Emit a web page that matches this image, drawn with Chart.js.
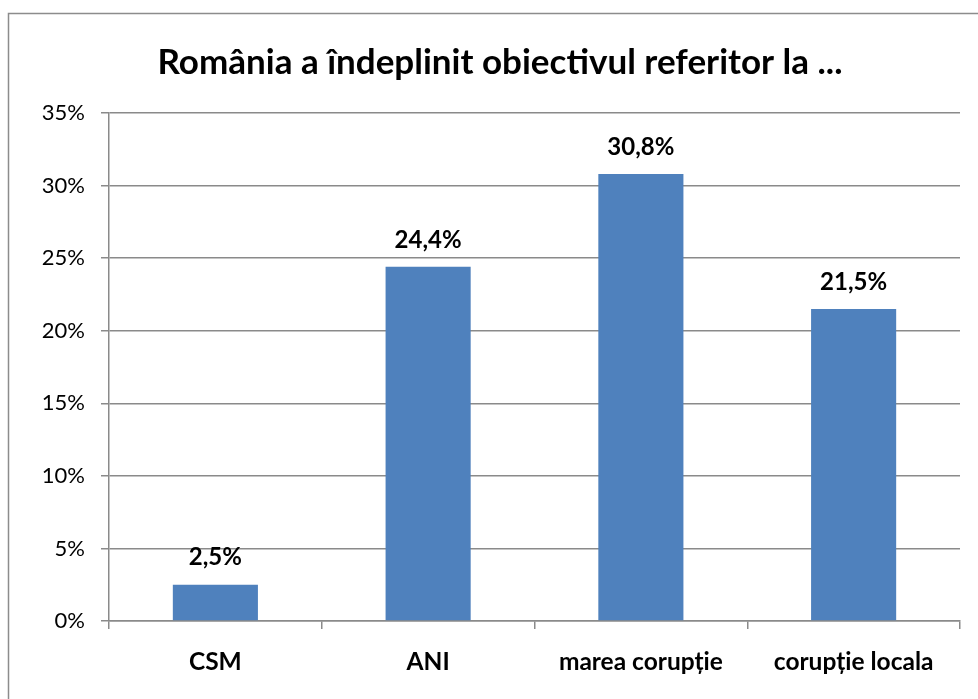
<!DOCTYPE html>
<html>
<head>
<meta charset="utf-8">
<script src="https://cdn.jsdelivr.net/npm/chart.js@4/dist/chart.umd.min.js"></script>
<style>
  html, body { margin: 0; padding: 0; background: #fff; }
  #wrap { width: 978px; height: 699px; }
</style>
</head>
<body>
<div id="wrap"><canvas id="c" width="978" height="699"></canvas></div>
<script>
const titleText = 'România a îndeplinit obiectivul referitor la ...';
const categories = ['CSM', 'ANI', 'marea corupție', 'corupție locala'];
const values = [2.5, 24.4, 30.8, 21.5];
const yTicks = [0, 5, 10, 15, 20, 25, 30, 35];

const FONT = 'Lato, "Open Sans", sans-serif';
const GRID = '#8a8a8a';

const borderPlugin = {
  id: 'outerBorder',
  beforeDraw(chart) {
    const ctx = chart.ctx;
    ctx.save();
    ctx.fillStyle = '#ffffff';
    ctx.fillRect(0, 0, chart.width, chart.height);
    ctx.strokeStyle = '#8c8c8c';
    ctx.lineWidth = 1.5;
    ctx.strokeRect(8.5, 13.5, 1200, 1200);
    ctx.restore();
  }
};

const titlePlugin = {
  id: 'customTitle',
  afterDraw(chart) {
    const ctx = chart.ctx;
    ctx.save();
    ctx.font = 'bold 35px ' + FONT;
    ctx.fillStyle = '#000';
    ctx.textAlign = 'center';
    ctx.textBaseline = 'middle';
    ctx.fillText(titleText, 500, 63);
    ctx.restore();
  }
};

const labelPlugin = {
  id: 'barLabels',
  afterDatasetsDraw(chart) {
    const ctx = chart.ctx;
    const meta = chart.getDatasetMeta(0);
    ctx.save();
    ctx.font = 'bold 24px ' + FONT;
    ctx.fillStyle = '#000';
    ctx.textAlign = 'center';
    ctx.textBaseline = 'middle';
    meta.data.forEach((bar, i) => {
      const txt = values[i].toFixed(1).replace('.', ',') + '%';
      ctx.fillText(txt, bar.x, bar.y - 27);
    });
    ctx.restore();
  }
};

new Chart(document.getElementById('c'), {
  type: 'bar',
  data: {
    labels: categories,
    datasets: [{
      data: values,
      backgroundColor: '#4F81BD',
      borderWidth: 0,
      categoryPercentage: 1.0,
      barPercentage: 0.4
    }]
  },
  options: {
    responsive: false,
    animation: false,
    devicePixelRatio: 1,
    layout: { padding: { left: 40, right: 18, top: 113, bottom: 0 } },
    plugins: {
      legend: { display: false },
      title: { display: false },
      tooltip: { enabled: false }
    },
    scales: {
      y: {
        min: 0,
        max: 35,
        afterFit(scale) { scale.width = 69; },
        afterBuildTicks(scale) { scale.ticks = yTicks.map(v => ({ value: v })); },
        ticks: {
          stepSize: 5,
          padding: 16,
          color: '#000',
          font: { family: FONT, size: 22 },
          callback: v => v + '%'
        },
        grid: { color: GRID, lineWidth: 1.5, tickLength: 8, drawTicks: true },
        border: { display: true, color: GRID, width: 1.5 }
      },
      x: {
        afterFit(scale) { scale.height = 78; },
        ticks: {
          padding: 18,
          color: '#000',
          font: { family: FONT, size: 24.5, weight: 'bold' }
        },
        grid: { drawOnChartArea: false, drawTicks: true, tickLength: 8, color: GRID, lineWidth: 1.5, offset: true },
        border: { display: true, color: GRID, width: 1.5 }
      }
    }
  },
  plugins: [borderPlugin, titlePlugin, labelPlugin]
});
</script>
</body>
</html>
